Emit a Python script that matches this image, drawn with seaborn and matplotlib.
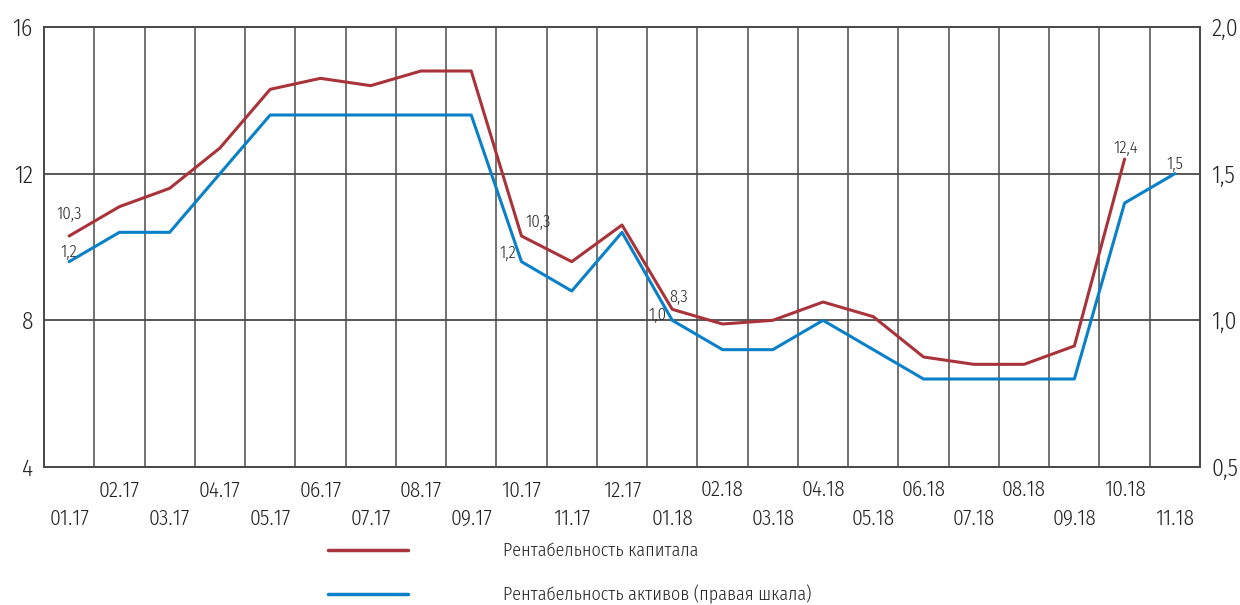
import pandas as pd
import seaborn as sns
import matplotlib.pyplot as plt
import numpy as np
from matplotlib import font_manager
from matplotlib.ft2font import FT2Font

# data
months = ['01.17', '02.17', '03.17', '04.17', '05.17', '06.17', '07.17', '08.17',
          '09.17', '10.17', '11.17', '12.17', '01.18', '02.18', '03.18', '04.18',
          '05.18', '06.18', '07.18', '08.18', '09.18', '10.18', '11.18']
roe = [10.3, 11.1, 11.6, 12.7, 14.3, 14.6, 14.4, 14.8, 14.8, 10.3, 9.6, 10.6,
       8.3, 7.9, 8.0, 8.5, 8.1, 7.0, 6.8, 6.8, 7.3, 12.4, np.nan]
roa = [1.2, 1.3, 1.3, 1.5, 1.7, 1.7, 1.7, 1.7, 1.7, 1.2, 1.1, 1.3,
       1.0, 0.9, 0.9, 1.0, 0.9, 0.8, 0.8, 0.8, 0.8, 1.4, 1.5]
roe_labels = {0: '10,3', 9: '10,3', 12: '8,3', 21: '12,4'}
roa_labels = {0: '1,2', 9: '1,2', 12: '1,0', 22: '1,5'}
legend_labels = ['Рентабельность капитала', 'Рентабельность активов (правая шкала)']

RED = '#A8333A'
BLUE = '#0A80C8'
GRID = '#4a4a4a'
TXT = '#222222'

sns.set_theme(style='white')


def has_cyr(path):
    try:
        cmap = FT2Font(path).get_charmap()
        return ord('Р') in cmap and ord('ш') in cmap
    except Exception:
        return False


def wnum(w):
    if isinstance(w, int):
        return w
    return font_manager.weight_dict.get(w, 400)


# look for a narrow face with cyrillic, the reference uses a light condensed sans
cands = []
for f in font_manager.fontManager.ttflist:
    narrow = ('Narrow' in f.name or 'Condensed' in f.name or
              f.stretch in ('condensed', 'semi-condensed', 'extra-condensed', 500 - 100))
    if narrow and has_cyr(f.fname) and f.style == 'normal':
        cands.append((abs(wnum(f.weight) - 330), f.name, f.weight, f.stretch))
cands.sort(key=lambda c: (c[0], c[1]))
weight = 'normal'
if cands:
    _, fam, weight, stretch = cands[0]
    plt.rcParams['font.family'] = [fam, 'DejaVu Sans']
    plt.rcParams['font.weight'] = weight
    plt.rcParams['font.stretch'] = stretch
    fs_y, fs_x, fs_val, fs_leg = 17, 15.5, 12, 13
else:
    plt.rcParams['font.family'] = ['DejaVu Sans']
    fs_y, fs_x, fs_val, fs_leg = 14, 11.5, 10, 12

df = pd.DataFrame({'idx': range(len(months)), 'roe': roe, 'roa': roa})

fig = plt.figure(figsize=(12.4, 6.05), dpi=100)
ax = fig.add_axes([44/1240, 1-467/605, 1156/1240, 440/605])
bx = ax.twinx()

ax.set_xlim(-0.5, len(months) - 0.5)
ax.set_ylim(4, 16)
bx.set_ylim(0.5, 2.0)

# grid: vertical lines between months, horizontal at the left ticks
for i in range(len(months) - 1):
    ax.axvline(i + 0.5, color=GRID, lw=1.1, zorder=0)
for v in [8, 12]:
    ax.axhline(v, color=GRID, lw=1.3, zorder=0)

sns.lineplot(data=df, x='idx', y='roe', ax=ax, color=RED, lw=2.2, zorder=3)
sns.lineplot(data=df, x='idx', y='roa', ax=bx, color=BLUE, lw=2.2, zorder=3)

for a in (ax, bx):
    a.set_xlabel('')
    a.set_ylabel('')
    for s in a.spines.values():
        s.set_color(GRID)
        s.set_linewidth(1.3)

ax.set_yticks([4, 8, 12, 16])
ax.set_yticklabels(['4', '8', '12', '16'])
bx.set_yticks([0.5, 1.0, 1.5, 2.0])
bx.set_yticklabels(['0,5', '1,0', '1,5', '2,0'])
ax.tick_params(axis='y', length=0, pad=8, labelsize=fs_y, labelcolor=TXT)
bx.tick_params(axis='y', length=0, pad=8, labelsize=fs_y, labelcolor=TXT)

# two rows of month labels
ax.set_xticks(range(len(months)))
ax.set_xticklabels(['\n' + m if i % 2 == 0 else m for i, m in enumerate(months)],
                   linespacing=1.45)
ax.tick_params(axis='x', length=0, pad=9, labelsize=fs_x, labelcolor=TXT)

# value labels
offs_roe = {0: (0, 10, 'center'), 9: (3, 4, 'left'), 12: (-2, 3, 'left'), 21: (1, 2, 'center')}
for i, t in roe_labels.items():
    dx, dy, ha = offs_roe[i]
    ax.annotate(t, (i, roe[i]), xytext=(dx, dy), textcoords='offset points',
                ha=ha, va='bottom', fontsize=fs_val, color=TXT)
offs_roa = {0: (0, 1, 'center'), 9: (-4, 0, 'right'), 12: (-4, -2, 'right'), 22: (0, 1, 'center')}
for i, t in roa_labels.items():
    dx, dy, ha = offs_roa[i]
    bx.annotate(t, (i, roa[i]), xytext=(dx, dy), textcoords='offset points',
                ha=ha, va='bottom', fontsize=fs_val, color=TXT)

# legend below the plot
px = fs_leg * 100 / 72
handles = [plt.Line2D([], [], color=RED, lw=2.5),
           plt.Line2D([], [], color=BLUE, lw=2.5)]
fig.legend(handles, legend_labels,
           loc='upper left', bbox_to_anchor=(328/1240, 1-542/605), frameon=False,
           fontsize=fs_leg, handlelength=80/px, handletextpad=95/px,
           labelspacing=(43-px)/px, borderpad=0, borderaxespad=0,
           labelcolor=TXT)

fig.savefig('out.png', dpi=100)
